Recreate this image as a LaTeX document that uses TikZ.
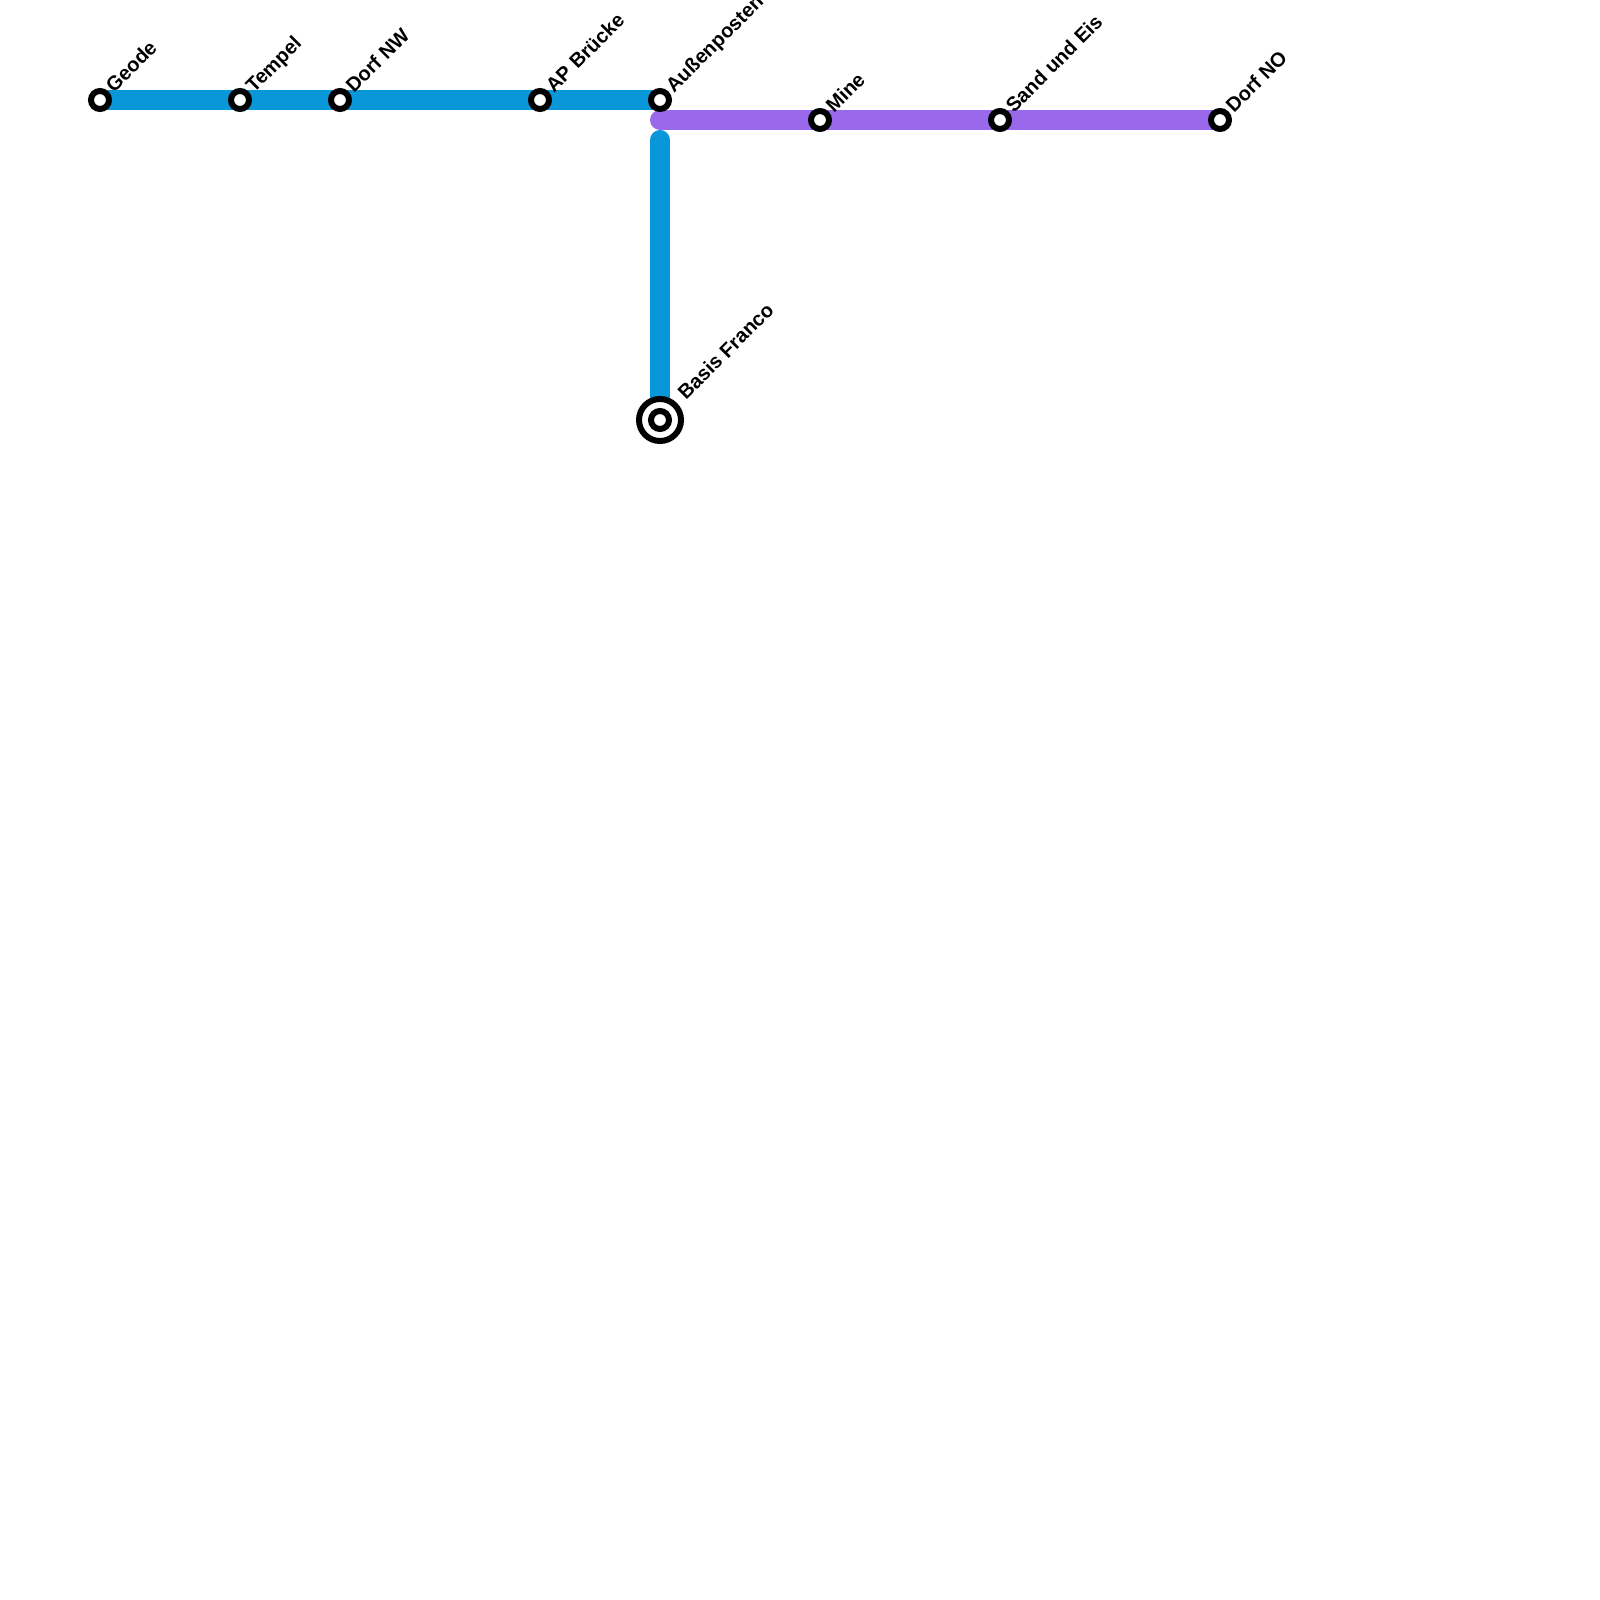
\documentclass[tikz,border=0pt]{standalone}
\usepackage{fontspec}
\setmainfont{Liberation Sans}
\usetikzlibrary{backgrounds}
\definecolor{lineblue}{HTML}{0A97D9}
\definecolor{linepurple}{HTML}{9968EB}
\tikzset{
  station/.style={circle,draw=black,fill=white,line width=.06cm,minimum size=.18cm,inner sep=0pt},
  terminal/.style={circle,draw=black,fill=white,line width=.06cm,minimum size=.42cm,inner sep=0pt},
  stationlabel/.style={anchor=base west,xshift=.135cm,yshift=.06cm,rotate=45,inner sep=0pt,font=\fontsize{5.7}{6}\selectfont\bfseries},
  metro/.style={line width=.2cm,line cap=round}
}
\begin{document}
\begin{tikzpicture}[x=.01cm,y=-.01cm]
   \useasboundingbox (0,0) rectangle (1600,1600);
   \node[station] (geode) at (100,100) {};
   \node[station] (tempel) at (240,100) {};
   \node[station] (dorfnw) at (340,100) {};
   \node[station] (apbruecke) at (540,100) {};
   \node[station] (aussen) at (660,100) {};
   \coordinate (purplestart) at (660,120);
   \node[station] (mine) at (820,120) {};
   \node[station] (sand) at (1000,120) {};
   \node[station] (dorfno) at (1220,120) {};
   \coordinate (bluestart) at (660,140);
   \node[terminal] (basisring) at (660,420) {};
   \node[station] (basis) at (660,420) {};

   \node[stationlabel] (lgeode) at (geode.center) {Geode};
   \node[stationlabel] (ltempel) at (tempel.center) {Tempel};
   \node[stationlabel] (ldorfnw) at (dorfnw.center) {Dorf NW};
   \node[stationlabel] (lapbruecke) at (apbruecke.center) {AP Brücke};
   \node[stationlabel] (laussen) at (aussen.center) {Außenposten};
   \node[stationlabel] (lmine) at (mine.center) {Mine};
   \node[stationlabel] (lsand) at (sand.center) {Sand und Eis};
   \node[stationlabel] (ldorfno) at (dorfno.center) {Dorf NO};
   \node[stationlabel,xshift=.175cm,yshift=.005cm] (lbasis) at (basis.center) {Basis Franco};

   \begin{scope}[on background layer]
   \draw[metro,lineblue] (geode.center) -- (tempel.center) -- (dorfnw.center) -- (apbruecke.center) -- (aussen.center);
   \draw[metro,lineblue] (bluestart) -- (basis.center);
   \draw[metro,linepurple] (purplestart) -- (mine.center) -- (sand.center) -- (dorfno.center);
   \end{scope}
\end{tikzpicture}
\end{document}
